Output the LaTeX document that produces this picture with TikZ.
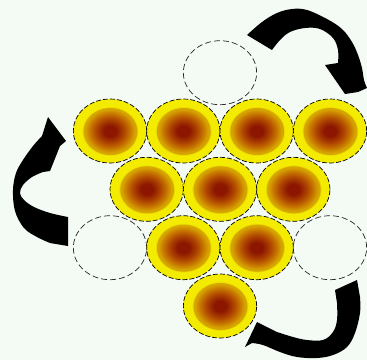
\documentclass[tikz,border=0pt]{standalone}
\usetikzlibrary{shapes.geometric}
\definecolor{bg}{RGB}{244,251,244}
\definecolor{ballY}{RGB}{243,236,0}
\definecolor{ballO}{RGB}{214,165,0}
\definecolor{ballR}{RGB}{199,118,0}
\definecolor{ballB}{RGB}{175,70,0}
\definecolor{ballD}{RGB}{140,22,0}
\pgfdeclareradialshading{ball}{\pgfpoint{0bp}{0bp}}{color(0bp)=(ballD); color(4.1bp)=(ballD); color(9.6bp)=(ballB); color(13.7bp)=(ballR); color(17bp)=(ballO); color(18.1bp)=(ballO); color(18.9bp)=(ballY); color(50bp)=(ballY)}
\tikzset{
  pin/.style={ellipse, minimum width=73.3pt, minimum height=64pt, inner sep=0pt,
    draw=black, line width=0.7pt, dash pattern=on 5pt off 2pt, shade, shading=ball},
  gap/.style={ellipse, minimum width=73.3pt, minimum height=64pt, inner sep=0pt,
    draw=black!85, line width=0.7pt, dash pattern=on 6pt off 3pt},
  turn/.style={fill=black}
}
\begin{document}
\begin{tikzpicture}[x=1pt,y=-1pt]
\fill[bg] (0,0) rectangle (367,360);
\useasboundingbox (0,0) rectangle (367,360);
% empty places
\node[gap] (g0) at (220,72.7) {};
\node[gap] (g1) at (110,247.7) {};
\node[gap] (g2) at (330,247.7) {};
% pins
\node[pin] (p11) at (110,131) {};
\node[pin] (p12) at (183.3,131) {};
\node[pin] (p13) at (256.7,131) {};
\node[pin] (p14) at (330,131) {};
\node[pin] (p21) at (146.7,189.3) {};
\node[pin] (p22) at (220,189.3) {};
\node[pin] (p23) at (293.3,189.3) {};
\node[pin] (p31) at (183.3,247.7) {};
\node[pin] (p32) at (256.7,247.7) {};
\node[pin] (p41) at (220,306) {};
% top-right arrow
\fill[turn] plot[smooth, tension=0.6] coordinates {(247,35) (262,22) (277,13) (292,9) (307,10) (327,19) (342,29) (352,42) (358,55) (362,68) (364,80) (367,88)}
  -- (358,92) -- (345,94) -- (325,65)
  -- plot[smooth, tension=0.6] coordinates {(338,63) (338,50) (333,38) (320,29) (305,28) (290,32) (280,40) (272,50)} -- cycle;
% left arrow
\fill[turn] (48,117) -- (66,141) -- (60,146) -- (50,171)
  -- plot[smooth, tension=0.6] coordinates {(43,172) (32,177) (23,185) (20,193) (24,200) (34,207) (50,213) (68,217)}
  -- (68,246)
  -- plot[smooth, tension=0.6] coordinates {(50,243) (37,237) (24,228) (15,211) (13,190) (16,173) (23,160) (33,146) (42,136)} -- cycle;
% bottom-right arrow
\fill[turn] (335,290) -- (357,280)
  -- plot[smooth, tension=0.6] coordinates {(360,297) (360,313) (355,333) (347,347) (333,355) (317,358) (297,357) (280,352) (263,345) (252,343)}
  -- (245,347) -- (257,322)
  -- plot[smooth, tension=0.6] coordinates {(277,332) (293,337) (307,340) (323,340) (333,332) (337,320) (337,303)} -- cycle;
\end{tikzpicture}
\end{document}
